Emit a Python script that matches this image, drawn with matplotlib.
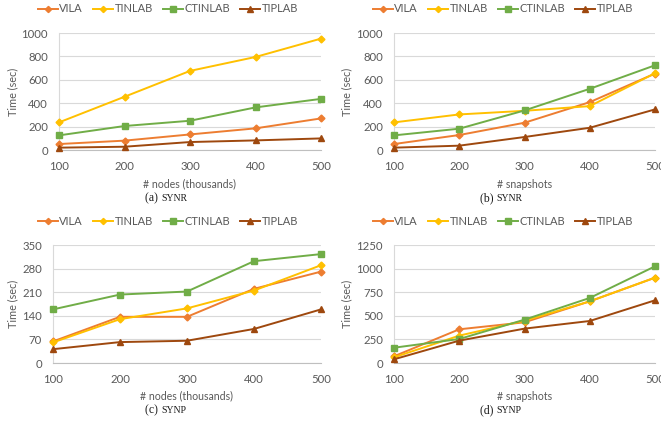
import matplotlib
matplotlib.use("Agg")
import matplotlib.pyplot as plt

x_vals = [100, 200, 300, 400, 500]
series_names = ["VILA", "TINLAB", "CTINLAB", "TIPLAB"]

a_vila = [51, 80, 133, 185, 270]
a_tinlab = [236, 455, 676, 795, 952]
a_ctinlab = [125, 205, 250, 364, 437]
a_tiplab = [20, 28, 68, 82, 99]

b_vila = [51, 128, 233, 409, 653]
b_tinlab = [236, 304, 335, 375, 656]
b_ctinlab = [125, 182, 338, 523, 724]
b_tiplab = [20, 37, 111, 190, 347]

c_vila = [64, 137, 137, 220, 271]
c_tinlab = [61, 130, 162, 215, 290]
c_ctinlab = [159, 203, 212, 302, 323]
c_tiplab = [41, 62, 66, 101, 159]

d_vila = [71, 357, 431, 653, 904]
d_tinlab = [60, 290, 448, 653, 904]
d_ctinlab = [162, 254, 459, 689, 1024]
d_tiplab = [39, 237, 364, 445, 664]

a_yticks = [0, 200, 400, 600, 800, 1000]
b_yticks = [0, 200, 400, 600, 800, 1000]
c_yticks = [0, 70, 140, 210, 280, 350]
d_yticks = [0, 250, 500, 750, 1000, 1250]

xlabels = ["# nodes (thousands)", "# snapshots", "# nodes (thousands)", "# snapshots"]
captions = [("(a)", "SYNR"), ("(b)", "SYNR"), ("(c)", "SYNP"), ("(d)", "SYNP")]

colors = ["#ED7D31", "#FFC000", "#70AD47", "#9E480E"]
markers = ["D", "D", "s", "^"]
msizes = [3.5, 3.5, 5, 5]

W, H = 661, 423
fig = plt.figure(figsize=(W / 100, H / 100), dpi=100)
plt.rcParams['font.family'] = ['Lato', 'DejaVu Sans']

# pixel boxes: left, right, top, bottom
boxes = [(59, 321, 33, 150), (394, 655, 33, 150), (53, 321, 245, 363), (394, 655, 245, 363)]
data = [
    [a_vila, a_tinlab, a_ctinlab, a_tiplab],
    [b_vila, b_tinlab, b_ctinlab, b_tiplab],
    [c_vila, c_tinlab, c_ctinlab, c_tiplab],
    [d_vila, d_tinlab, d_ctinlab, d_tiplab],
]
yticks_all = [a_yticks, b_yticks, c_yticks, d_yticks]
legend_centers = [(168, 9), (503, 9), (168, 221), (503, 221)]
caption_pos = [(161, 198), (496, 198), (161, 410), (496, 410)]
ylabel_x = [13, 347, 13, 347]
xlabel_y = [184, 184, 396, 396]

gray = "#595959"
for i in range(4):
    l, r, t, b = boxes[i]
    ax = fig.add_axes([l / W, 1 - b / H, (r - l) / W, (b - t) / H])
    handles = []
    for j, name in enumerate(series_names):
        h, = ax.plot(x_vals, data[i][j], color=colors[j], marker=markers[j],
                     markersize=msizes[j], linewidth=1.4, label=name, clip_on=False, zorder=3)
        handles.append(h)
    yt = yticks_all[i]
    ax.set_xlim(100, 500)
    ax.set_ylim(yt[0], yt[-1])
    ax.set_xticks(x_vals)
    ax.set_yticks(yt)
    ax.tick_params(length=0, labelsize=8.2, colors=gray, pad=8)
    ax.grid(axis='y', color="#D9D9D9", linewidth=0.8)
    ax.set_axisbelow(True)
    for s in ["top", "right"]:
        ax.spines[s].set_visible(False)
    ax.spines["left"].set_color("#D9D9D9")
    ax.spines["left"].set_linewidth(0.8)
    ax.spines["bottom"].set_color("#BFBFBF")
    ax.spines["bottom"].set_linewidth(0.8)
    fig.text(ylabel_x[i] / W, 1 - ((t + b) / 2) / H, "Time (sec)", rotation=90,
             ha='center', va='center', fontsize=7.8, color=gray)
    fig.text(((l + r) / 2) / W, 1 - xlabel_y[i] / H, xlabels[i],
             ha='center', va='center', fontsize=7.6, color=gray)
    cx, cy = caption_pos[i]
    fig.text(cx / W, 1 - cy / H, captions[i][0] + " ", ha='right', va='center',
             fontsize=8.5, family='Liberation Serif', color="#1a1a1a")
    fig.text(cx / W, 1 - cy / H, captions[i][1], ha='left', va='center',
             fontsize=7.0, family='Liberation Serif', color="#1a1a1a")
    lx, ly = legend_centers[i]
    fig.legend(handles=handles, loc='center', bbox_to_anchor=(lx / W, 1 - ly / H),
               ncol=4, frameon=False, fontsize=8.0, handlelength=1.8,
               handletextpad=0.15, columnspacing=0.9, labelcolor=gray,
               borderaxespad=0, borderpad=0, markerscale=0.9)

fig.savefig("out.png", dpi=100)
